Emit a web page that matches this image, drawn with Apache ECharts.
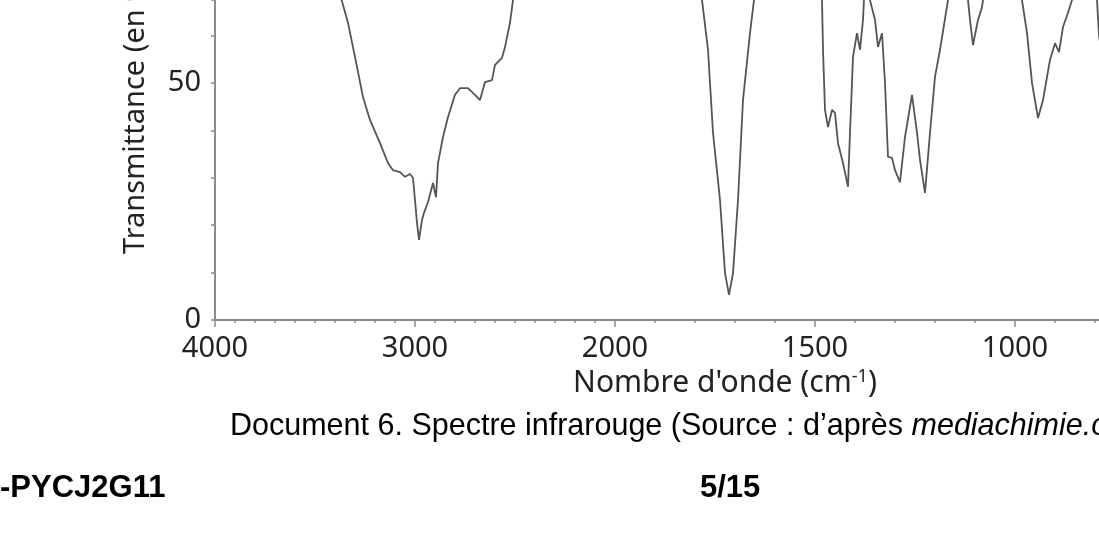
<!DOCTYPE html>
<html>
<head>
<meta charset="utf-8">
<script src="https://cdn.jsdelivr.net/npm/echarts@6/dist/echarts.min.js"></script>
<style>
  html, body { margin: 0; padding: 0; background: #fff; }
  #main-chart { width: 1099px; height: 538px; }
</style>
</head>
<body>
<div id="main-chart"></div>
<script>
// =========================================
// Spectre IR
// =========================================
const waveNumbers = [4000, 3600, 3450, 3367, 3335, 3290, 3260, 3225, 3175, 3135, 3110, 3075, 3050, 3025, 3010,
  2990, 2980, 2965, 2955, 2935, 2910, 2895, 2885, 2860, 2835, 2800, 2775, 2735, 2700, 2675, 2650, 2615,
  2600, 2565, 2550, 2525, 2510, 2400, 2200, 2000, 1900,
  1782.5, 1767.5, 1755, 1737.5, 1725, 1715, 1705, 1692.5, 1680, 1662.5, 1652.5, 1600, 1550,
  1482.5, 1480, 1475, 1467.5, 1457.5, 1450, 1442.5, 1430, 1417.5, 1412.5, 1405, 1395, 1387.5, 1380, 1375,
  1362.5, 1350, 1342.5, 1332.5, 1325, 1317.5, 1307.5, 1300, 1287.5, 1275, 1257.5, 1245, 1237.5, 1225,
  1212.5, 1200, 1187.5, 1167.5, 1150, 1117.5, 1112.5, 1105, 1092.5, 1082.5, 1080, 1050,
  982.5, 970, 957.5, 942.5, 930, 912.5, 900, 890, 880, 867.5, 857.5, 830, 800, 790, 780];
const transmittance = [95, 90, 80, 67.5, 62.7, 53.4, 47.0, 42.2, 37.3, 33.1, 31.6, 31.2, 30.2, 30.8, 30.0,
  20.5, 16.9, 21.1, 22.6, 24.9, 28.9, 25.9, 33.1, 38.6, 42.8, 47.5, 48.9, 48.9, 47.5, 46.4, 50.2, 50.6,
  53.8, 55.3, 57.6, 62.7, 67.5, 85, 92, 93, 90,
  67.5, 57.0, 39.5, 25.3, 9.9, 5.3, 9.9, 25.3, 46.4, 60.5, 67.5, 85, 82,
  67.5, 57.0, 44.3, 40.7, 44.3, 43.7, 37.3, 33.1, 28.1, 39.5, 55.5, 60.5, 57.0, 63.3, 72,
  67.5, 63.3, 57.6, 60.5, 50.0, 34.4, 34.2, 31.6, 29.1, 38.6, 47.5, 39.5, 33.8, 26.8,
  39.5, 51.3, 57.0, 67.5, 72, 67.5, 63.3, 58.0, 63.3, 66.0, 67.5, 75,
  67.5, 60.5, 50.0, 42.6, 46.4, 54.9, 58.4, 56.5, 61.8, 64.8, 67.5, 75, 75, 60, 55];
const majorTicks = [4000, 3000, 2000, 1500, 1000];
const yLabels = [0, 50];

// échelle double : 4000-2000 compressé, 2000-... dilaté (x2)
function toU(w) {
    return w >= 2000 ? (4000 - w) / 5 : 400 + (2000 - w) * 0.4;
}
function toW(u) {
    return u <= 400 ? 4000 - u * 5 : 2000 - (u - 400) / 0.4;
}

const U_MAX = 884;
const minorTicks = [];
for (let u = 0; u <= 400; u += 20) minorTicks.push(u);
for (let u = 440; u <= U_MAX; u += 40) minorTicks.push(u);

const axisColor = '#8a8a8a';
const chart = echarts.init(document.getElementById('main-chart'));

chart.setOption({
    backgroundColor: '#fff',
    animation: false,
    grid: { left: 215, right: 0, top: 0, bottom: 218 },
    xAxis: [
        {
            type: 'value', min: 0, max: U_MAX,
            axisLine: { show: true, lineStyle: { color: axisColor, width: 2 } },
            axisTick: { show: true, length: 7, customValues: majorTicks.map(toU), lineStyle: { color: axisColor, width: 1.5 } },
            axisLabel: {
                customValues: majorTicks.map(toU),
                formatter: v => String(Math.round(toW(v))),
                fontFamily: 'Noto Sans', fontSize: 29, color: '#222', margin: 14
            },
            splitLine: { show: false }
        },
        {
            type: 'value', min: 0, max: U_MAX, position: 'bottom',
            axisLine: { show: false },
            axisTick: { show: true, length: 3, customValues: minorTicks, lineStyle: { color: axisColor, width: 1.5 } },
            axisLabel: { show: false },
            splitLine: { show: false }
        }
    ],
    yAxis: {
        type: 'value', min: 0, max: 67.5, interval: 10,
        axisLine: { show: true, lineStyle: { color: axisColor, width: 2 } },
        axisTick: { show: true, length: 4, lineStyle: { color: axisColor, width: 1.5 } },
        axisLabel: {
            formatter: v => yLabels.includes(v) ? String(v) : '',
            fontFamily: 'Noto Sans', fontSize: 29, color: '#222', margin: 14
        },
        splitLine: { show: false }
    },
    series: [{
        type: 'line',
        xAxisIndex: 0,
        data: waveNumbers.map((w, i) => [toU(w), transmittance[i]]),
        showSymbol: false,
        clip: true,
        lineStyle: { color: '#555', width: 1.8 }
    }],
    graphic: [
        {
            type: 'text', x: 121, y: 254, rotation: Math.PI / 2,
            style: { text: 'Transmittance (en %)', font: '29px "Noto Sans"', fill: '#222', textVerticalAlign: 'top' }
        },
        {
            type: 'text', x: 725, y: 383,
            style: {
                text: "{n|Nombre d'onde (cm}{s|-1}{n|)}",
                rich: {
                    n: { font: '30px "Noto Sans"', fill: '#222' },
                    s: { font: '18px "Noto Sans"', fill: '#222', verticalAlign: 'top', padding: [0, 0, 10, 0] }
                },
                align: 'center', verticalAlign: 'middle'
            }
        },
        {
            type: 'text', x: 230, y: 427,
            style: {
                text: '{n|Document 6. Spectre infrarouge (Source : d’après }{i|mediachimie.org)}',
                rich: {
                    n: { font: '30.5px "Liberation Sans"', fill: '#000' },
                    i: { font: 'italic 30.5px "Liberation Sans"', fill: '#000' }
                },
                verticalAlign: 'middle'
            }
        },
        {
            type: 'text', x: 0, y: 488,
            style: { text: '-PYCJ2G11', font: 'bold 31px "Liberation Sans"', fill: '#000', verticalAlign: 'middle' }
        },
        {
            type: 'text', x: 700, y: 488,
            style: { text: '5/15', font: 'bold 31px "Liberation Sans"', fill: '#000', verticalAlign: 'middle' }
        }
    ]
});
</script>
</body>
</html>
